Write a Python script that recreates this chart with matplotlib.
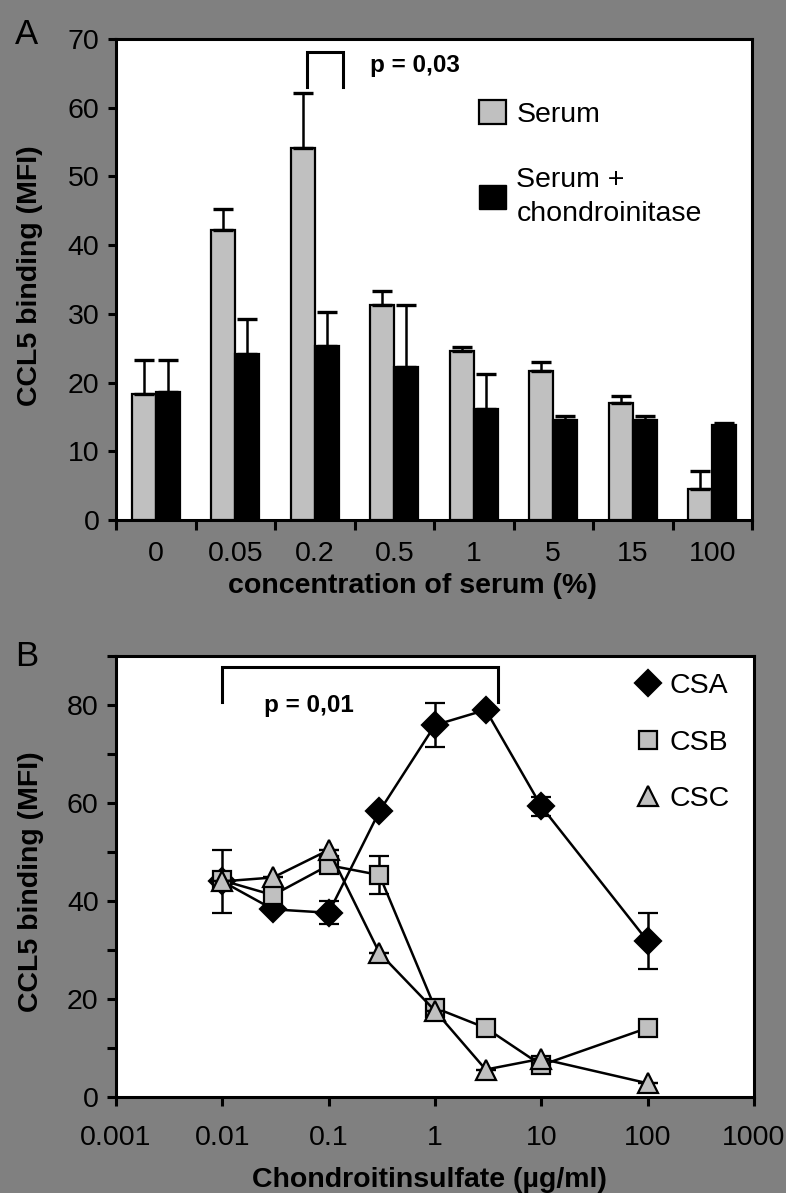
import matplotlib
matplotlib.use("Agg")
import matplotlib.pyplot as plt
from matplotlib.patches import Patch
from matplotlib.lines import Line2D

plt.rcParams['font.family'] = ['Liberation Sans', 'DejaVu Sans']

# ---------------- data ----------------
# Panel A
serum_conc = ["0", "0.05", "0.2", "0.5", "1", "5", "15", "100"]
serum_mean = [18.4, 42.2, 54.2, 31.3, 24.6, 21.7, 17.0, 4.5]
serum_err = [4.9, 3.0, 7.9, 2.0, 0.6, 1.3, 1.0, 2.7]
chond_mean = [18.6, 24.2, 25.3, 22.2, 16.2, 14.6, 14.6, 13.8]
chond_err = [4.7, 5.0, 4.9, 9.1, 5.0, 0.6, 0.6, 0.3]

# Panel B
cs_conc = [0.01, 0.03, 0.1, 0.3, 1, 3, 10, 100]
csa_mean = [44.0, 38.3, 37.6, 58.3, 75.9, 79.0, 59.3, 31.8]
csa_err = [6.5, 0, 2.3, 0, 4.5, 0, 2.0, 5.7]
csb_mean = [44.2, 41.2, 47.3, 45.3, 18.2, 14.1, 6.5, 14.1]
csb_err = [0, 0, 0, 3.8, 0, 0, 0, 0]
csc_mean = [44.0, 44.8, 50.4, 29.4, 17.6, 5.6, 7.8, 2.8]
csc_err = [0, 0, 0, 0, 0, 0, 0, 0]
b_xticks = [0.001, 0.01, 0.1, 1, 10, 100, 1000]
b_xticklabels = ["0.001", "0.01", "0.1", "1", "10", "100", "1000"]

FS = 20.5
BG = '#808080'
LIGHT = '#c0c0c0'
SPW = 2.2

fig = plt.figure(figsize=(7.86, 11.93), dpi=100, facecolor=BG)
W, H = 786.0, 1193.0

def axes_px(l, t, r, b):
    return fig.add_axes([l / W, 1 - b / H, (r - l) / W, (b - t) / H])

# ================= Panel A =================
axA = axes_px(116, 39, 752, 520)
n = len(serum_conc)
xs = list(range(n))
bw = 0.3
axA.bar([x - bw / 2 for x in xs], serum_mean, width=bw, color=LIGHT,
        edgecolor='black', linewidth=1.6,
        yerr=[[0] * n, serum_err],
        error_kw=dict(ecolor='black', elinewidth=1.8, capsize=7, capthick=2.4),
        zorder=3)
axA.bar([x + bw / 2 for x in xs], chond_mean, width=bw, color='black',
        edgecolor='black', linewidth=1.6,
        yerr=[[0] * n, chond_err],
        error_kw=dict(ecolor='black', elinewidth=1.8, capsize=7, capthick=2.4),
        zorder=3)
axA.set_xlim(-0.5, n - 0.5)
axA.set_ylim(0, 70)
axA.set_yticks(range(0, 71, 10))
axA.set_xticks([x - 0.5 for x in range(n + 1)])
axA.set_xticklabels([])
axA.set_xticks(xs, minor=True)
axA.set_xticklabels(serum_conc, minor=True)
axA.tick_params(axis='y', which='major', direction='out', length=6, width=SPW,
                labelsize=FS, pad=6)
axA.tick_params(axis='x', which='major', direction='out', length=7, width=SPW)
axA.tick_params(axis='x', which='minor', length=0, labelsize=FS, pad=15)
for s in axA.spines.values():
    s.set_linewidth(SPW)
axA.set_xlabel("concentration of serum (%)", fontsize=FS, fontweight='bold')
axA.xaxis.set_label_coords(0.466, -0.110)
axA.set_ylabel("CCL5 binding (MFI)", fontsize=FS, fontweight='bold')
axA.yaxis.set_label_coords(-0.114, 0.507)

# significance bracket A
axA.plot([1.905, 1.905, 2.36, 2.36], [63.0, 68.1, 68.1, 63.0], color='black',
         lw=2.2, solid_joinstyle='miter', clip_on=False, zorder=4)
axA.text(2.70, 65.2, "p = 0,03", fontsize=17.5, fontweight='bold',
         ha='left', va='baseline')

legA = axA.legend(
    handles=[Patch(facecolor=LIGHT, edgecolor='black', linewidth=1.6),
             Patch(facecolor='black', edgecolor='black')],
    labels=["Serum", "Serum +\nchondroinitase"],
    loc='upper left', bbox_to_anchor=(0.571, 0.873), frameon=False,
    fontsize=FS, borderpad=0, borderaxespad=0, handlelength=0.93,
    handleheight=0.93, handletextpad=0.38, labelspacing=1.36)
for t in legA.get_texts():
    t.set_linespacing(1.4)

fig.text(15 / W, 1 - 18 / H, "A", fontsize=25, ha='left', va='top')

# ================= Panel B =================
axB = axes_px(116, 656, 754, 1097)
common = dict(color='black', lw=1.8, ecolor='black', elinewidth=1.8,
              capsize=7.5, capthick=2.4, markeredgecolor='black',
              markeredgewidth=1.6)
axB.errorbar(cs_conc, csa_mean, yerr=csa_err, marker='D', markersize=12.8,
             markerfacecolor='black', label='CSA', zorder=3, **common)
axB.errorbar(cs_conc, csb_mean, yerr=csb_err, marker='s', markersize=12.8,
             markerfacecolor=LIGHT, label='CSB', zorder=4, **common)
axB.errorbar(cs_conc, csc_mean, yerr=csc_err, marker='^', markersize=15,
             markerfacecolor=LIGHT, label='CSC', zorder=5, **common)
axB.set_xscale('log')
axB.set_xlim(0.001, 1000)
axB.set_ylim(0, 90)
axB.set_xticks(b_xticks)
axB.set_xticklabels(b_xticklabels)
axB.xaxis.set_minor_locator(matplotlib.ticker.NullLocator())
axB.set_yticks(range(0, 81, 20))
axB.set_yticks(range(10, 91, 20), minor=True)
axB.tick_params(axis='both', which='major', direction='out', length=6.5,
                width=SPW, labelsize=FS)
axB.tick_params(axis='y', which='major', pad=6)
axB.tick_params(axis='x', which='major', pad=14)
axB.tick_params(axis='y', which='minor', direction='out', length=6.5, width=SPW)
for s in axB.spines.values():
    s.set_linewidth(SPW)
axB.set_xlabel("Chondroitinsulfate (µg/ml)", fontsize=FS, fontweight='bold')
axB.xaxis.set_label_coords(0.492, -0.158)
axB.set_ylabel("CCL5 binding (MFI)", fontsize=FS, fontweight='bold')
axB.yaxis.set_label_coords(-0.1136, 0.4875)

axB.plot([0.01, 0.01, 3.9, 3.9], [80.7, 87.7, 87.7, 80.7], color='black',
         lw=2.2, solid_joinstyle='miter', zorder=6)
axB.text(0.0248, 78.6, "p = 0,01", fontsize=17.5, fontweight='bold',
         ha='left', va='baseline')

hB = [Line2D([], [], ls='none', marker='D', markersize=12.8, markerfacecolor='black',
             markeredgecolor='black', markeredgewidth=1.6),
      Line2D([], [], ls='none', marker='s', markersize=12.8, markerfacecolor=LIGHT,
             markeredgecolor='black', markeredgewidth=1.6),
      Line2D([], [], ls='none', marker='^', markersize=15, markerfacecolor=LIGHT,
             markeredgecolor='black', markeredgewidth=1.6)]
axB.legend(handles=hB, labels=["CSA", "CSB", "CSC"], loc='upper left',
           bbox_to_anchor=(0.816, 0.962), frameon=False, fontsize=FS,
           borderpad=0, borderaxespad=0, handlelength=0.8,
           handletextpad=0.36, labelspacing=1.08)

fig.text(15 / W, 1 - 640 / H, "B", fontsize=25, ha='left', va='top')

fig.savefig("out.png", dpi=100, facecolor=BG)
